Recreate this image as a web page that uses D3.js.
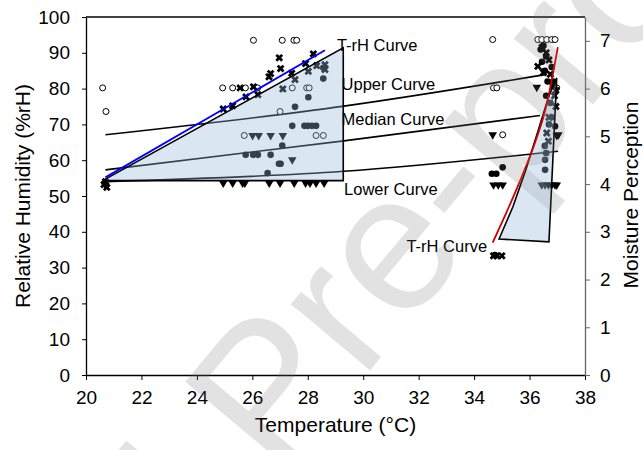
<!DOCTYPE html>
<html>
<head>
<meta charset="utf-8">
<script src="https://cdn.jsdelivr.net/npm/d3@7"></script>
<style>
  body { margin: 0; background: #fff; }
  svg { display: block; font-family: "Liberation Sans", Arial, sans-serif; }
</style>
</head>
<body>
<script>
// temperature (°C), relative humidity (%rH)
const openCircles = [[20.6,80.2],[20.72,73.6],[26.04,93.5],[27.08,93.5],[27.5,93.5],[27.6,93.5],
  [24.93,80.2],[25.29,80.2],[25.75,80.2],[26.19,80.2],[27.44,80.2],[27.96,80.2],[28.05,80.2],
  [27.0,73.6],[25.71,66.9],[28.3,66.9],[28.56,66.9],
  [34.67,93.7],[36.3,93.7],[36.44,93.7],[36.62,93.7],[36.8,93.7],[36.92,93.7],
  [34.7,80.2],[34.82,80.2],[36.98,80.2],[35.03,67.1]];
const crosses = [[24.95,74.3],[25.29,75.2],[25.56,80.2],[25.77,77.7],[26.04,80.5],[26.2,78.3],
  [26.6,83.3],[26.66,84.2],[26.97,88.6],[27.02,85.6],[27.42,84.3],[27.54,82.5],[27.1,79.9],
  [27.92,87],[28.2,89.7],[28.02,84.8],[28.32,86.4],[28.62,86.7],[28.62,85.3],
  [20.65,53.2],[20.75,52.4],[20.7,54],
  [36.3,86.2],[36.45,91.5],[36.6,90],[36.7,88],[36.5,84.5],[36.75,84],[36.85,80.5],[36.9,78],
  [36.95,75],[36.7,72],[36.62,67.6],[36.68,65.3],[36.95,79.5],
  [34.7,33.3],[34.82,33.3],[35.0,33.3]];
const filledCircles = [[28.02,77.6],[27.54,74.9],[28.56,82.8],[28.56,85.8],[27.44,69.6],[27.88,69.6],
  [28.0,69.6],[28.15,69.6],[28.3,69.6],[25.76,61.5],[26.03,61.5],[26.2,61.5],[26.66,61.5],
  [27.08,64.1],[26.96,59.0],[27.02,59.0],[26.55,56.4],[20.68,53.4],
  [36.4,90.9],[36.5,92],[36.6,89],[36.45,87.5],[36.55,85],[36.65,82],[36.8,86],[36.85,82],
  [36.6,78],[36.75,76],[36.92,69.5],[36.56,60.1],[36.56,57.3],[36.6,62],[36.55,64],[36.7,70],
  [36.8,72],[35.03,58.0],[34.64,56.2],[34.8,56.2],[34.75,33.5]];
const triangles = [[26.01,66.9],[26.23,66.9],[26.66,66.9],[27.1,66.9],[27.44,60.1],
  [24.95,53.6],[25.29,53.6],[25.65,53.6],[25.73,53.6],[26.61,53.6],[27.0,53.6],[27.51,53.6],
  [27.92,53.6],[28.08,53.6],[28.3,53.6],[28.59,53.6],[20.7,53.0],
  [34.67,67.1],[34.7,53.1],[34.87,53.1],[35.03,53.1],
  [36.26,80.4],[36.44,53.1],[36.56,53.1],[36.68,53.1],[36.8,53.1],[36.92,53.1],[36.98,53.1],
  [37.04,67.1],[36.98,66.9]];

const upperCurve = [[20.7,67.1],[29.3,75.1],[36.56,83.9]];
const medianCurve = [[20.7,57.3],[29.3,65.4],[36.38,72.5]];
const lowerCurve = [[20.7,54.0],[29.3,56.9],[37.03,62.5]];
const blueLine = [[20.7,55.2],[28.62,90.7]];
const redCurve = [[34.67,37.0],[35.2,46],[35.7,55],[36.2,65],[36.6,75],[37.02,91.6]];
const leftZone = [[20.6,54.3],[29.28,91.4],[29.28,54.3]];
const rightZone = [[34.9,38.0],[35.4,47],[35.85,57],[36.3,68],[36.7,78],[36.98,83],[36.7,37.2]];

const labels = [
  {text: "T-rH Curve", t: 29.05, rh: 90.6, anchor: "start"},
  {text: "Upper Curve", t: 29.22, rh: 79.7, anchor: "start"},
  {text: "Median Curve", t: 29.22, rh: 69.9, anchor: "start"},
  {text: "Lower Curve", t: 29.31, rh: 50.3, anchor: "start"},
  {text: "T-rH Curve", t: 34.47, rh: 34.4, anchor: "end"}
];

const xTicks = d3.range(20, 39, 2);
const yTicks = d3.range(0, 101, 10);
const y2Ticks = d3.range(0, 8, 1);

const W = 643, H = 450;
const M = {left: 86, right: 585, top: 17, bottom: 375};

const svg = d3.select("body").append("svg").attr("width", W).attr("height", H);

const x = d3.scaleLinear().domain([20, 38]).range([M.left, M.right]);
const y = d3.scaleLinear().domain([0, 100]).range([M.bottom, M.top]);
const y2 = d3.scaleLinear().domain([0, 7.5]).range([M.bottom, M.top]);

// watermark, drawn first and again faintly on top
let mark = (op) => svg.append("text").attr("transform", "translate(372,290) rotate(-50)")
  .attr("x", -900).attr("y", 50)
  .style("font-size", "195px").attr("fill", "#c8c8c8").attr("fill-opacity", op)
  .text("Journal Pre-proof");
mark(0.45);

// frame top line
svg.append("line").attr("x1", M.left).attr("x2", M.right).attr("y1", M.top).attr("y2", M.top)
  .attr("stroke", "#000").attr("stroke-width", 1.3);

let styleAxis = (g, col) => {
  g.selectAll("path").attr("stroke", col).attr("stroke-width", 1.3);
  g.selectAll("line").attr("stroke", col).attr("stroke-width", 1);
  g.selectAll("text").attr("fill", "#000").style("font-size", "19px").style("font-family", "Liberation Sans, Arial, sans-serif");
};

svg.append("g").attr("transform", `translate(0,${M.bottom})`)
  .call(d3.axisBottom(x).tickValues(xTicks).tickSize(5).tickSizeOuter(0).tickPadding(11))
  .call(g => styleAxis(g, "#000"));
svg.append("g").attr("transform", `translate(${M.left},0)`)
  .call(d3.axisLeft(y).tickValues(yTicks).tickSize(4).tickSizeOuter(0).tickPadding(12))
  .call(g => styleAxis(g, "#000"));
svg.append("g").attr("transform", `translate(${M.right},0)`)
  .call(d3.axisRight(y2).tickValues(y2Ticks).tickSize(5).tickSizeOuter(0).tickPadding(10))
  .call(g => styleAxis(g, "#666"));

// curves
let line = d3.line().x(d => x(d[0])).y(d => y(d[1])).curve(d3.curveMonotoneX);
[upperCurve, medianCurve, lowerCurve].forEach(c => {
  svg.append("path").attr("d", line(c)).attr("fill", "none").attr("stroke", "#000").attr("stroke-width", 1.6);
});

// markers
const sym = (type, size) => d3.symbol().type(type).size(size);
let plot = svg.append("g");
plot.selectAll(".oc").data(openCircles).enter().append("circle")
  .attr("cx", d => x(d[0])).attr("cy", d => y(d[1])).attr("r", 3)
  .attr("fill", "#fff").attr("stroke", "#000").attr("stroke-width", 1);
plot.selectAll(".cr").data(crosses).enter().append("path")
  .attr("transform", d => `translate(${x(d[0])},${y(d[1])}) rotate(45)`)
  .attr("d", d3.symbol().type(d3.symbolCross).size(38)())
  .attr("fill", "#000");
plot.selectAll(".fc").data(filledCircles).enter().append("circle")
  .attr("cx", d => x(d[0])).attr("cy", d => y(d[1])).attr("r", 3.3)
  .attr("fill", "#000");
plot.selectAll(".tr").data(triangles).enter().append("path")
  .attr("transform", d => `translate(${x(d[0])},${y(d[1])}) rotate(180)`)
  .attr("d", sym(d3.symbolTriangle, 32)())
  .attr("fill", "#000");

// shaded zones
let poly = d3.line().x(d => x(d[0])).y(d => y(d[1]));
svg.append("path").attr("d", poly(leftZone) + "Z")
  .attr("fill", "rgb(150,182,218)").attr("fill-opacity", 0.35)
  .attr("stroke", "#000").attr("stroke-width", 1.6).attr("stroke-linejoin", "miter");
svg.append("path").attr("d", poly(rightZone) + "Z")
  .attr("fill", "rgb(150,182,218)").attr("fill-opacity", 0.35)
  .attr("stroke", "#000").attr("stroke-width", 1.6);

svg.append("path").attr("d", poly(blueLine)).attr("stroke", "#0000ff").attr("stroke-width", 1.8).attr("fill", "none");
svg.append("path").attr("d", line(redCurve)).attr("stroke", "#cc0000").attr("stroke-width", 1.8).attr("fill", "none");

svg.selectAll(".lbl").data(labels).enter().append("text")
  .attr("x", d => x(d.t)).attr("y", d => y(d.rh))
  .attr("text-anchor", d => d.anchor)
  .style("font-size", "16.5px").text(d => d.text);

// axis titles
svg.append("text").attr("x", (M.left + M.right) / 2).attr("y", 432)
  .attr("text-anchor", "middle").style("font-size", "21px").text("Temperature (°C)");
svg.append("text").attr("transform", `translate(30,${(M.top + M.bottom) / 2}) rotate(-90)`)
  .attr("text-anchor", "middle").style("font-size", "21px").text("Relative Humidity (%rH)");
svg.append("text").attr("transform", `translate(638,${(M.top + M.bottom) / 2 - 1}) rotate(-90)`)
  .attr("text-anchor", "middle").style("font-size", "21px").text("Moisture Perception");

mark(0.12);
</script>
</body>
</html>
